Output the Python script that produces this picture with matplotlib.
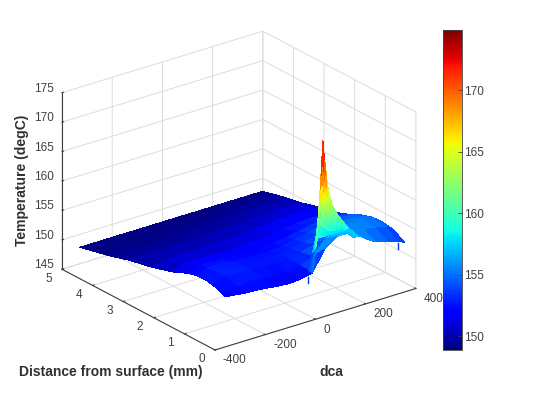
import numpy as np
import matplotlib
matplotlib.use("Agg")
import matplotlib.pyplot as plt
from mpl_toolkits.mplot3d import proj3d

plt.rcParams['font.family'] = ['Liberation Sans', 'DejaVu Sans']
plt.rcParams['axes.unicode_minus'] = False

x_ticks = [-400, -200, 0, 200, 400]
y_ticks = [0, 1, 2, 3, 4, 5]
z_ticks = [145, 150, 155, 160, 165, 170, 175]
cbar_ticks = [150, 155, 160, 165, 170]

# broad sheet of the temperature surface
plane_x = [-360, -250, -200, -150, -100, -50, 0, 50, 100, 150, 200, 250, 300, 340, 368]
plane_y = [0.1, 0.5, 0.9, 1.2, 1.5, 1.8, 2.3, 2.9, 3.5, 4.0, 4.4, 4.75]
plane_left = [-318, -310, -300, -292, -287, -287, -289, -303, -318, -335, -347, -360]
plane_front_y = [0.35, 0.2, 0.12, 0.1, 0.1, 0.1, 0.1, 0.1, 0.1, 0.1, 0.1, 0.1, 0.1, 0.1, 0.1]
plane_temps = [
    [152.0, 152.2, 152.4, 152.2, 152.0, 152.1, 152.6, 156.0, 157.5, 157.5, 156.0, 154.6, 154.0, 153.5, 153.0],
    [152.0, 152.4, 152.6, 152.5, 152.3, 152.3, 152.7, 153.6, 156.0, 156.5, 156.0, 155.6, 155.2, 154.8, 154.2],
    [152.3, 153.0, 153.0, 152.8, 152.6, 152.6, 152.8, 153.2, 153.8, 154.8, 155.4, 155.6, 155.5, 155.2, 154.5],
    [152.2, 153.0, 153.0, 152.8, 152.6, 152.6, 152.7, 153.0, 153.4, 154.1, 154.7, 155.0, 155.0, 154.8, 154.3],
    [152.0, 152.8, 152.8, 152.6, 152.4, 152.4, 152.4, 152.6, 153.0, 153.5, 154.0, 154.3, 154.4, 154.3, 153.8],
    [151.6, 152.3, 152.3, 152.2, 152.0, 152.0, 152.1, 152.3, 152.6, 153.0, 153.4, 153.6, 153.6, 153.5, 153.0],
    [150.5, 151.3, 151.4, 151.3, 151.2, 151.2, 151.3, 151.5, 151.7, 152.0, 152.2, 152.4, 152.4, 152.3, 152.0],
    [149.9, 150.3, 150.4, 150.4, 150.4, 150.5, 150.6, 150.7, 150.9, 151.0, 151.2, 151.3, 151.4, 151.4, 151.3],
    [149.6, 149.7, 149.7, 149.7, 149.7, 149.8, 149.8, 149.9, 150.0, 150.1, 150.2, 150.3, 150.4, 150.4, 150.4],
    [149.2, 149.2, 149.2, 149.2, 149.2, 149.3, 149.3, 149.4, 149.4, 149.5, 149.6, 149.7, 149.8, 149.8, 149.9],
    [149.0, 149.0, 149.0, 149.0, 149.0, 149.0, 149.0, 149.1, 149.1, 149.1, 149.2, 149.2, 149.3, 149.3, 149.4],
    [148.9, 148.9, 148.9, 148.9, 148.9, 148.9, 148.9, 148.9, 148.9, 148.9, 148.9, 148.9, 148.9, 148.9, 148.9],
]

# thin fin that forms the spike near the surface
fin_x = [2, 18, 26, 30, 34, 38, 42, 47, 52, 57, 62, 70, 80, 98, 120, 142, 180]
fin_y = [0.10, 0.12, 0.14, 0.16, 0.18, 0.20, 0.24]
fin_temps_by_x = [
    [152.6, 152.6, 152.6, 152.6, 152.6, 152.6, 152.6],
    [157.4, 157.0, 156.6, 156.3, 156.0, 155.8, 155.5],
    [163.4, 162.0, 160.8, 159.8, 158.8, 158.0, 157.0],
    [166.0, 164.2, 162.6, 161.2, 160.0, 158.8, 157.3],
    [168.5, 166.2, 164.2, 162.4, 160.8, 159.2, 157.5],
    [171.5, 168.6, 166.2, 164.0, 162.0, 160.0, 157.6],
    [174.5, 171.0, 168.0, 165.4, 163.0, 160.2, 157.6],
    [172.0, 169.2, 166.6, 164.3, 162.2, 159.9, 157.6],
    [170.0, 167.6, 165.4, 163.4, 161.5, 159.6, 157.6],
    [168.0, 166.2, 164.4, 162.6, 160.9, 159.3, 157.6],
    [166.3, 164.8, 163.4, 162.0, 160.6, 159.1, 157.6],
    [164.5, 163.4, 162.2, 161.0, 159.8, 158.8, 157.6],
    [163.0, 162.2, 161.2, 160.2, 159.4, 158.4, 157.6],
    [161.4, 160.8, 160.0, 159.4, 158.8, 158.2, 157.6],
    [159.8, 159.5, 159.2, 158.8, 158.4, 158.0, 157.6],
    [158.5, 158.3, 158.2, 158.0, 157.9, 157.7, 157.5],
    [156.5, 156.4, 156.3, 156.2, 156.1, 156.0, 155.9],
]

# two small drips hanging from the front edge
drip_x = [-18, 341]
drip_y = [0.1, 0.1]
drip_top = [152.1, 153.2]
drip_bottom = [151.1, 152.2]

W, H = 546, 413
fig = plt.figure(figsize=(W / 100, H / 100), dpi=100)
ax = fig.add_axes([0, 0, 1, 1], projection='3d', computed_zorder=False)
ax.set_proj_type('ortho')
ax.view_init(elev=23.7, azim=-127.3)
aspect = (252.7, 252.7, 193)
ax.set_box_aspect(aspect, zoom=1.0)
ax.set_xlim(-400, 400); ax.set_ylim(0, 5); ax.set_zlim(145, 175)
ax.patch.set_alpha(0)

vmin, vmax = 148.9, 174.9
PX, PY = np.meshgrid(np.array(plane_x, float), np.array(plane_y, float))
PX[:, 0] = plane_left
PY[0, :] = plane_front_y
ax.plot_surface(PX, PY, np.array(plane_temps), cmap='jet', vmin=vmin, vmax=vmax, rstride=1, cstride=1,
                linewidth=0, antialiased=False, shade=False, zorder=2)
FX, FY = np.meshgrid(np.array(fin_x, float), np.array(fin_y, float))
ax.plot_surface(FX, FY, np.array(fin_temps_by_x).T, cmap='jet', vmin=vmin, vmax=vmax, rstride=1, cstride=1,
                linewidth=0, antialiased=False, shade=False, zorder=3)
for dx, dy, zt, zb in zip(drip_x, drip_y, drip_top, drip_bottom):
    ax.plot([dx, dx], [dy, dy], [zt, zb], color='#0038ff', lw=1.0, zorder=4)

ax.set_xticks(x_ticks); ax.set_yticks(y_ticks); ax.set_zticks(z_ticks)
tc = '#404040'
for a in (ax.xaxis, ax.yaxis, ax.zaxis):
    a.set_pane_color((1, 1, 1, 0))
    a.pane.set_edgecolor('#cfcfcf')
    a.line.set_color('#404040')
    a.line.set_linewidth(0.8)
    a._axinfo['grid']['color'] = '#dcdcdc'
    a._axinfo['grid']['linewidth'] = 0.7
    a._axinfo['tick']['inward_factor'] = 0.0
    a._axinfo['tick']['outward_factor'] = 0.1
ax.tick_params(labelsize=8.5, labelcolor=tc, color=tc, pad=0)

fig.canvas.draw()
for lbl in ax.xaxis.get_ticklabels():
    lbl.set_ha('left')
    lbl.set_va('baseline')
for lbl in ax.yaxis.get_ticklabels():
    lbl.set_ha('right')
    lbl.set_va('baseline')
for lbl in ax.zaxis.get_ticklabels():
    lbl.set_va('baseline')

# Fit the orthographic box onto the reference pixel positions
target_front = (215, H - 350)
target_left = (62, H - 269)
def corner(xv, yv, zv):
    p, q, _ = proj3d.proj_transform(xv, yv, zv, ax.get_proj())
    return ax.transData.transform((p, q))
a = corner(-400, 0, 145); b = corner(-400, 5, 145)
s = (target_front[0] - target_left[0]) / (a[0] - b[0])
ax.set_box_aspect(aspect, zoom=s)
fig.canvas.draw()
a = corner(-400, 0, 145)
ax.set_position([(target_front[0] - a[0]) / W, (target_front[1] - a[1]) / H, 1, 1])

lab = dict(fontsize=10, fontweight='bold', color='#303030')
fig.text(111 / W, 1 - 372 / H, 'Distance from surface (mm)', ha='center', va='center', **lab)
fig.text(331 / W, 1 - 372 / H, 'dca', ha='center', va='center', **lab)
fig.text(22 / W, 1 - 180 / H, 'Temperature (degC)', ha='center', va='center', rotation=90, **lab)

cax = fig.add_axes([443 / W, 1 - 350 / H, 19 / W, 320 / H])
sm = plt.cm.ScalarMappable(norm=plt.Normalize(vmin, vmax), cmap='jet')
cb = fig.colorbar(sm, cax=cax, ticks=cbar_ticks)
cb.ax.tick_params(direction='in', length=3, width=0.6, labelsize=8.5, labelcolor=tc, color=tc, pad=1.5)
cb.outline.set_linewidth(0.6); cb.outline.set_edgecolor('#404040')

fig.savefig('out.png', dpi=100)
